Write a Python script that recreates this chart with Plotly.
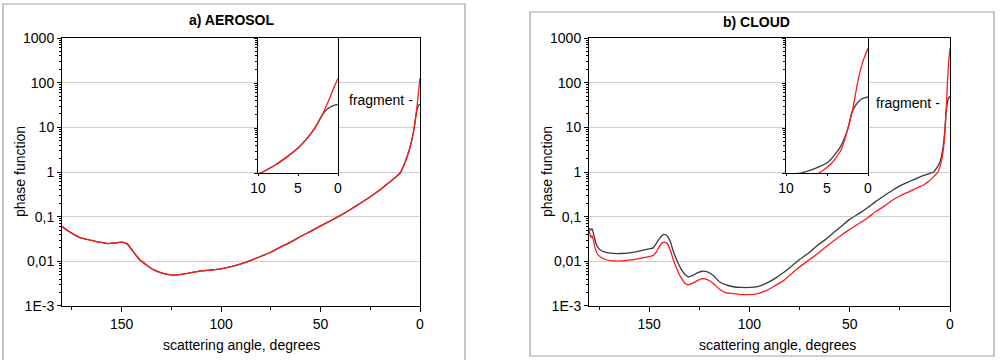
import plotly.graph_objects as go

# ---------------- data ----------------
aer_angle = [180, 176, 171, 166, 161, 157, 153, 150, 147, 144, 141, 137, 134, 130, 127, 124,
             120, 117, 113, 110, 105, 100, 95, 90, 85, 80, 75, 70, 65, 60, 55, 50, 45, 40,
             35, 30, 25, 20, 17, 14, 12, 10, 8, 6.5, 5, 4, 3, 2, 1.5, 1, 0.5, 0]
aer_black = [0.060, 0.045, 0.034, 0.030, 0.027, 0.025, 0.026, 0.027, 0.024, 0.016, 0.011, 0.0080,
             0.0065, 0.0055, 0.0051, 0.0049, 0.0051, 0.0054, 0.0058, 0.0061, 0.0064, 0.0068,
             0.0076, 0.0088, 0.0105, 0.013, 0.016, 0.021, 0.027, 0.036, 0.047, 0.062, 0.081,
             0.107, 0.145, 0.20, 0.28, 0.40, 0.52, 0.66, 0.78, 0.95, 1.45, 2.2, 3.6, 5.5, 9.3,
             19, 25, 29, 32, 33]
aer_red = [0.061, 0.045, 0.034, 0.030, 0.027, 0.025, 0.026, 0.027, 0.024, 0.016, 0.011, 0.0080,
           0.0065, 0.0055, 0.0051, 0.0049, 0.0051, 0.0054, 0.0058, 0.0061, 0.0064, 0.0068,
           0.0076, 0.0088, 0.0105, 0.013, 0.016, 0.021, 0.027, 0.036, 0.047, 0.062, 0.081,
           0.107, 0.145, 0.20, 0.28, 0.40, 0.52, 0.66, 0.78, 0.95, 1.45, 2.2, 3.6, 5.5, 9.3,
           19, 30, 48, 80, 126]

cld_angle_b = [180, 179, 178.5, 177.5, 176.5, 175, 172, 168, 164, 160, 155, 150, 148, 146.5, 145,
               143.5, 142.5, 141, 139.5, 138, 136, 134, 132, 130.5, 128.5, 126, 123.5, 121, 118,
               115, 112, 108, 104, 100, 96, 93, 90, 87, 83, 79, 75, 70, 66, 62, 58, 54, 50, 45,
               41, 37, 33, 29, 25, 20, 16, 13, 11, 10, 8.2, 6.5, 4.9, 3.5, 2.5, 2, 1.6, 0.8, 0]
cld_black = [0.056, 0.050, 0.054, 0.038, 0.025, 0.019, 0.016, 0.015, 0.015, 0.0155, 0.017, 0.019,
             0.020, 0.025, 0.032, 0.038, 0.040, 0.037, 0.028, 0.017, 0.010, 0.0066, 0.0050,
             0.0045, 0.0048, 0.0055, 0.0060, 0.0058, 0.0048, 0.0035, 0.0030, 0.0027, 0.0026,
             0.0026, 0.0027, 0.0030, 0.0035, 0.0042, 0.0056, 0.0078, 0.011, 0.016, 0.023, 0.031,
             0.044, 0.062, 0.087, 0.12, 0.16, 0.22, 0.29, 0.38, 0.49, 0.62, 0.74, 0.84, 0.90,
             0.93, 1.0, 1.25, 1.73, 3.5, 9.1, 21, 30, 44, 49]

cld_angle_r = [180, 179.5, 179, 178.5, 177.8, 177, 175.5, 172, 168, 164, 160, 155, 150, 148, 146.5,
               145, 143.5, 142.5, 141, 139.5, 138, 136, 134, 132, 130.5, 128.5, 126, 123.5, 121,
               118, 115, 112, 108, 104, 100, 96, 93, 90, 87, 83, 79, 75, 70, 66, 62, 58, 54, 50,
               45, 41, 37, 33, 29, 25, 20, 16, 13, 11, 10, 8, 6, 4.5, 3.3, 2.5, 1.8, 1.2, 0.6, 0]
cld_red = [0.050, 0.040, 0.034, 0.038, 0.030, 0.020, 0.014, 0.011, 0.0102, 0.0102, 0.0106, 0.0115,
           0.0128, 0.0135, 0.016, 0.021, 0.026, 0.027, 0.025, 0.018, 0.011, 0.0065, 0.0042,
           0.0032, 0.0030, 0.0032, 0.0037, 0.0041, 0.0039, 0.0032, 0.0024, 0.0020, 0.0019,
           0.0018, 0.0018, 0.0019, 0.0021, 0.0024, 0.0029, 0.0037, 0.0053, 0.0075, 0.011, 0.015,
           0.021, 0.029, 0.039, 0.052, 0.072, 0.095, 0.13, 0.17, 0.23, 0.29, 0.37, 0.45, 0.52,
           0.60, 0.65, 0.80, 1.0, 1.6, 3.2, 9.0, 30, 118, 310, 590]

y_tickvals = [0.001, 0.01, 0.1, 1, 10, 100, 1000]
y_ticktext = ["1E-3", "0,01", "0,1", "1", "10", "100", "1000"]
x_tickvals = [150, 100, 50, 0]
inset_ticks = [10, 5, 0]
titles = ["a) AEROSOL", "b) CLOUD"]
ylabel = "phase function"
xlabel = "scattering angle, degrees"
note = "fragment -"

# ---------------- style ----------------
FONT = "Liberation Sans, Arial, sans-serif"
RED = "#ff1a1a"
BLK = "#3a3a3a"
GRID = "#cfcfcf"

fig = go.Figure()

def sub(xs, ys, lim=14):
    pairs = [(a, v) for a, v in zip(xs, ys) if a <= lim]
    return [p[0] for p in pairs], [p[1] for p in pairs]

line_kw = dict(shape="spline", smoothing=0.6, width=1.3)

# main a
fig.add_trace(go.Scatter(x=aer_angle, y=aer_black, mode="lines", line=dict(color=BLK, **line_kw), xaxis="x", yaxis="y"))
fig.add_trace(go.Scatter(x=aer_angle, y=aer_red, mode="lines", line=dict(color=RED, **line_kw), xaxis="x", yaxis="y"))
# main b
fig.add_trace(go.Scatter(x=cld_angle_b, y=cld_black, mode="lines", line=dict(color=BLK, **line_kw), xaxis="x2", yaxis="y2"))
fig.add_trace(go.Scatter(x=cld_angle_r, y=cld_red, mode="lines", line=dict(color=RED, **line_kw), xaxis="x2", yaxis="y2"))
# inset a
for xs, ys, c in [(aer_angle, aer_black, BLK), (aer_angle, aer_red, RED)]:
    sx, sy = sub(xs, ys)
    fig.add_trace(go.Scatter(x=sx, y=sy, mode="lines", line=dict(color=c, **line_kw), xaxis="x3", yaxis="y3"))
# inset b
for xs, ys, c in [(cld_angle_b, cld_black, BLK), (cld_angle_r, cld_red, RED)]:
    sx, sy = sub(xs, ys)
    fig.add_trace(go.Scatter(x=sx, y=sy, mode="lines", line=dict(color=c, **line_kw), xaxis="x4", yaxis="y4"))

tickfont = dict(family=FONT, size=14, color="black")

def main_x(domain, anchor):
    return dict(domain=domain, anchor=anchor, range=[180, 0], tickvals=x_tickvals, automargin=False,
                showline=True, linecolor="black", linewidth=1, mirror=True,
                ticks="outside", ticklen=5, tickcolor="black", showgrid=False, zeroline=False,
                minor=dict(ticks="outside", ticklen=3, dtick=25, tick0=0, tickcolor="black", showgrid=False),
                tickfont=tickfont)

def main_y(anchor):
    return dict(domain=[0.15, 0.8944], anchor=anchor, type="log", range=[-3, 3], automargin=False,
                tickvals=y_tickvals, ticktext=y_ticktext,
                showline=True, linecolor="black", linewidth=1, mirror=True,
                ticks="outside", ticklen=4, tickcolor="black",
                showgrid=True, gridcolor=GRID, gridwidth=1, zeroline=False,
                minor=dict(ticks="outside", ticklen=2, dtick="D1", tickcolor="black", showgrid=False),
                tickfont=tickfont)

def inset_x(domain, anchor):
    return dict(domain=domain, anchor=anchor, range=[10, 0], tickvals=inset_ticks, automargin=False,
                showline=True, linecolor="black", linewidth=1.3, mirror=True,
                ticks="outside", ticklen=2, tickcolor="black", showgrid=False, zeroline=False,
                tickfont=tickfont)

def inset_y(anchor):
    return dict(domain=[0.5194, 0.8944], anchor=anchor, type="log", range=[0, 3], automargin=False,
                tickvals=[1, 10, 100, 1000], showticklabels=False,
                showline=True, linecolor="black", linewidth=1.3, mirror=True,
                ticks="outside", ticklen=3, tickcolor="black", showgrid=False, zeroline=False,
                minor=dict(ticks="outside", ticklen=2, dtick="D1", tickcolor="black", showgrid=False))

fig.update_layout(
    width=1000, height=360,
    margin=dict(l=0, r=0, t=0, b=0, autoexpand=False),
    paper_bgcolor="white", plot_bgcolor="white",
    showlegend=False,
    font=dict(family=FONT, size=14, color="black"),
    xaxis=main_x([0.062, 0.42], "y"),
    yaxis=main_y("x"),
    xaxis2=main_x([0.589, 0.95], "y2"),
    yaxis2=main_y("x2"),
    xaxis3=inset_x([0.258, 0.338], "y3"),
    yaxis3=inset_y("x3"),
    xaxis4=inset_x([0.786, 0.868], "y4"),
    yaxis4=inset_y("x4"),
)

# inset white backgrounds (hide main gridlines)
for xr, yr in [("x3", "y3"), ("x4", "y4")]:
    fig.add_shape(type="rect", xref=xr, yref=yr, x0=10, x1=0, y0=1, y1=1000,
                  fillcolor="white", line=dict(width=0), layer="below")

# outer frames
fig.add_shape(type="rect", xref="paper", yref="paper", x0=0.003, x1=0.465, y0=-0.05, y1=1 - 4 / 360,
              line=dict(color="#a0a0a0", width=1.2), fillcolor="rgba(0,0,0,0)", layer="below")
fig.add_shape(type="rect", xref="paper", yref="paper", x0=0.530, x1=0.994, y0=4 / 360, y1=1 - 12 / 360,
              line=dict(color="#a0a0a0", width=1.2), fillcolor="rgba(0,0,0,0)", layer="below")

ann = []
common = dict(xref="paper", yref="paper", showarrow=False, xanchor="center", yanchor="middle")
for cx, ty, t in [(0.231, 1 - 20 / 360, titles[0]), (0.756, 1 - 22 / 360, titles[1])]:
    ann.append(dict(x=cx, y=ty, text="<b>" + t + "</b>", font=dict(family=FONT, size=14), **common))
for cx in [0.020, 0.547]:
    ann.append(dict(x=cx, y=1 - 172 / 360, text=ylabel, textangle=-90, font=dict(family=FONT, size=14), **common))
for cx in [0.241, 0.7775]:
    ann.append(dict(x=cx, y=1 - 345 / 360, text=xlabel, font=dict(family=FONT, size=14), **common))
for cx, cy in [(0.381, 1 - 100 / 360), (0.908, 1 - 103 / 360)]:
    ann.append(dict(x=cx, y=cy, text=note, font=dict(family=FONT, size=14), **common))
fig.update_layout(annotations=ann)

fig.write_html("out.html", config={"displayModeBar": False},
               post_script="document.body.style.margin='0';document.body.style.padding='0';")
